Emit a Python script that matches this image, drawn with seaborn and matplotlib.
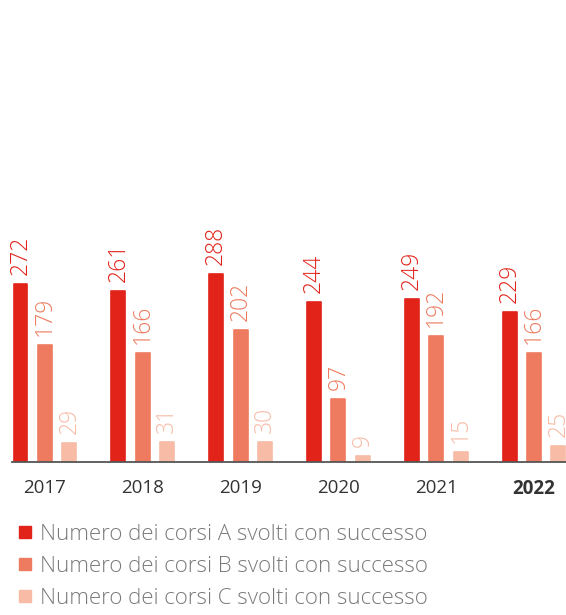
import pandas as pd
import seaborn as sns
import matplotlib.pyplot as plt
from matplotlib.lines import Line2D

### data
years = ["2017", "2018", "2019", "2020", "2021", "2022"]
corsi_a = [272, 261, 288, 244, 249, 229]
corsi_b = [179, 166, 202, 97, 192, 166]
corsi_c = [29, 31, 30, 9, 15, 25]
series_names = ["Numero dei corsi A svolti con successo",
                "Numero dei corsi B svolti con successo",
                "Numero dei corsi C svolti con successo"]
colors = ["#E2231A", "#EE7B5F", "#F8BBA5"]

# long form table for seaborn
df = pd.DataFrame({
    "anno": years * 3,
    "valore": corsi_a + corsi_b + corsi_c,
    "serie": [series_names[0]] * 6 + [series_names[1]] * 6 + [series_names[2]] * 6,
})

sns.set_theme(style="white")
plt.rcParams["font.family"] = ["Open Sans", "DejaVu Sans"]

fig = plt.figure(figsize=(5.66, 6.15), dpi=100)
ax = fig.add_axes([12 / 566, 153 / 615, 554 / 566, 0.4254])

sns.barplot(data=df, x="anno", y="valore", hue="serie", order=years,
            hue_order=series_names, palette=colors, width=0.75, gap=0.43,
            legend=False, ax=ax, linewidth=1.2, saturation=1)

# value labels, rotated, same colour as the bars
for container, col in zip(ax.containers, colors):
    for bar in container:
        bar.set_edgecolor(col)
        bar.set_joinstyle("round")
    ax.bar_label(container, rotation=90, padding=6.5, color=col, fontsize=16.5,
                 fontweight="light", clip_on=False)

ax.set_xlim(-0.337, 5.327)
ax.set_ylim(0, 400)
ax.set_xlabel("")
ax.set_ylabel("")
ax.set_yticks([])
for side in ["top", "right", "left"]:
    ax.spines[side].set_visible(False)
ax.spines["bottom"].set_color("#555555")
ax.spines["bottom"].set_linewidth(1.3)
ax.tick_params(axis="x", length=0, pad=12, labelsize=13.5, labelcolor="#333333")
for lab in ax.get_xticklabels():
    lab.set_fontweight("normal")
ax.get_xticklabels()[-1].set_fontweight("bold")

# legend below the chart
handles = [Line2D([], [], marker="s", linestyle="", markersize=8.5,
                  markerfacecolor=c, markeredgecolor=c) for c in colors]
fig.legend(handles, series_names, loc="upper left", bbox_to_anchor=(0.03, 0.148),
           frameon=False, prop={"size": 16, "weight": "light"}, labelcolor="#7a7a7a",
           handlelength=0.68, handletextpad=0.34, labelspacing=0.5,
           borderaxespad=0, borderpad=0)

fig.savefig("out.png", dpi=100)
